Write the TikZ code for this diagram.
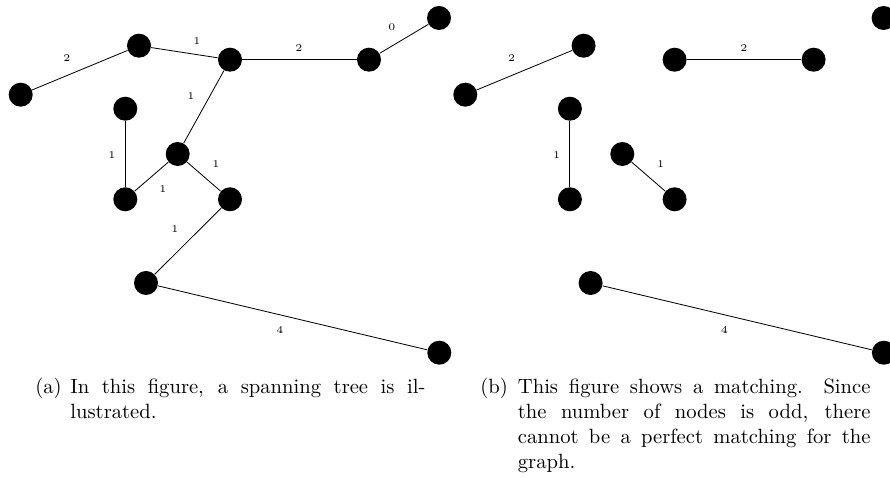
\documentclass[tikz,border=0pt]{standalone}
\begin{document}
\begin{tikzpicture}[x=0.485pt,y=-0.485pt,
  vtx/.style={circle,fill=black,inner sep=0pt,minimum size=11.64pt},
  wlab/.style={font=\tiny,inner sep=0pt},
  edge/.style={draw=black,line width=0.4pt},
  capt/.style={inner sep=0pt,anchor=base west,font=\fontsize{10}{12}\selectfont}]
\useasboundingbox (0,0) rectangle (890,478);
% ---------- left: spanning tree ----------
\node[vtx] (a1) at (20.7,94.7) {};
\node[vtx] (b1) at (139,45.7) {};
\node[vtx] (c1) at (230,59.7) {};
\node[vtx] (d1) at (369,59.7) {};
\node[vtx] (e1) at (439,18) {};
\node[vtx] (f1) at (125.3,108.7) {};
\node[vtx] (g1) at (177.7,154) {};
\node[vtx] (h1) at (125.3,199.3) {};
\node[vtx] (i1) at (230,199.3) {};
\node[vtx] (j1) at (146,283) {};
\node[vtx] (k1) at (439.3,352.7) {};
\draw[edge] (a1) -- (b1);
\draw[edge] (b1) -- (c1);
\draw[edge] (c1) -- (d1);
\draw[edge] (d1) -- (e1);
\draw[edge] (c1) -- (g1);
\draw[edge] (f1) -- (h1);
\draw[edge] (g1) -- (h1);
\draw[edge] (g1) -- (i1);
\draw[edge] (i1) -- (j1);
\draw[edge] (j1) -- (k1);
\node[wlab] (l1) at (67,58) {2};
\node[wlab] (l2) at (197,41) {1};
\node[wlab] (l3) at (299,48) {2};
\node[wlab] (l4) at (392,27) {0};
\node[wlab] (l5) at (191,96) {1};
\node[wlab] (l6) at (112,155) {1};
\node[wlab] (l7) at (163,189) {1};
\node[wlab] (l8) at (216,164) {1};
\node[wlab] (l9) at (175,229) {1};
\node[wlab] (l10) at (280,330) {4};
% ---------- right: matching ----------
\node[vtx] (a2) at (465.3,94.7) {};
\node[vtx] (b2) at (583.6,45.7) {};
\node[vtx] (c2) at (674.6,59.7) {};
\node[vtx] (d2) at (813.6,59.7) {};
\node[vtx] (e2) at (883.6,18) {};
\node[vtx] (f2) at (569.9,108.7) {};
\node[vtx] (g2) at (622.3,154) {};
\node[vtx] (h2) at (569.9,199.3) {};
\node[vtx] (i2) at (674.6,199.3) {};
\node[vtx] (j2) at (590.6,283) {};
\node[vtx] (k2) at (883.9,352.7) {};
\draw[edge] (a2) -- (b2);
\draw[edge] (c2) -- (d2);
\draw[edge] (f2) -- (h2);
\draw[edge] (g2) -- (i2);
\draw[edge] (j2) -- (k2);
\node[wlab] (m1) at (511.7,58) {2};
\node[wlab] (m2) at (744,48) {2};
\node[wlab] (m3) at (556.7,155) {1};
\node[wlab] (m4) at (660.7,164) {1};
\node[wlab] (m5) at (724.3,330) {4};
% ---------- captions ----------
\node[capt] (ca) at (35,394) {(a)};
\node[capt] (cat) at (70,394) {\parbox[t]{172.2pt}{In this figure, a spanning tree is il-\linebreak lustrated.}};
\node[capt] (cb) at (480,394) {(b)};
\node[capt] (cbt) at (517.5,394) {\parbox[t]{171pt}{This figure shows a matching. Since\linebreak the number of nodes is odd, there\linebreak cannot be a perfect matching for the\linebreak graph.}};
\end{tikzpicture}
\end{document}
